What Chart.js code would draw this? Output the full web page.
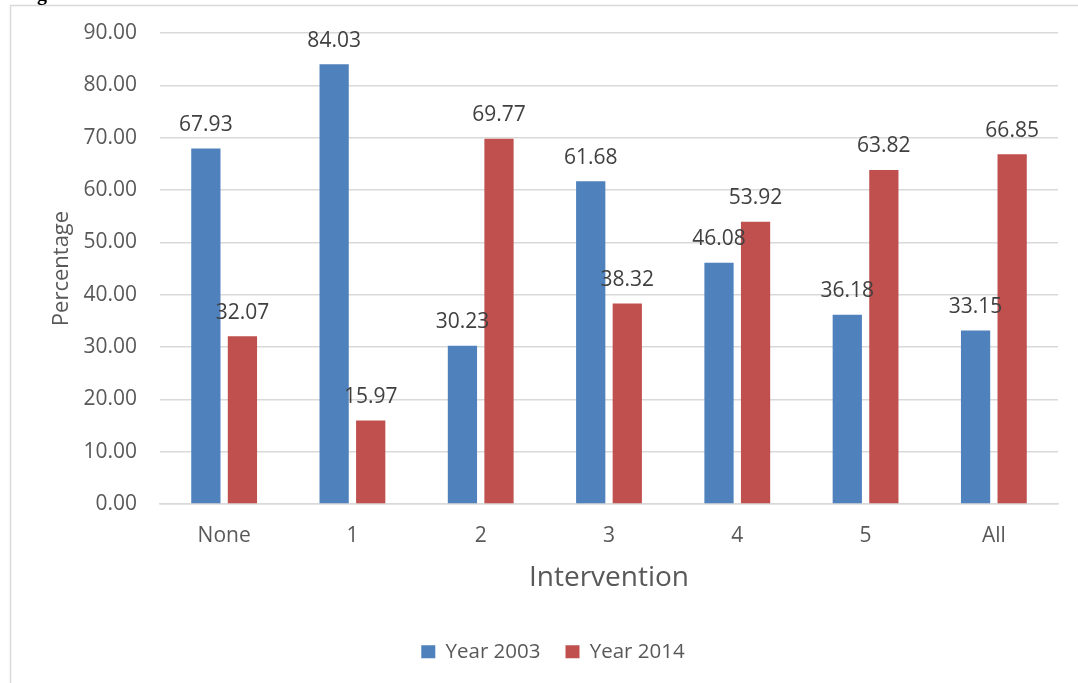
<!DOCTYPE html>
<html>
<head>
<meta charset="utf-8">
<script src="https://cdn.jsdelivr.net/npm/chart.js@4.4.1/dist/chart.umd.min.js"></script>
<style>
  html, body { margin: 0; padding: 0; background: #ffffff; }
  #wrap { position: absolute; left: 0; top: 0; width: 1078px; height: 683px; }
</style>
</head>
<body>
<div id="wrap"><canvas id="chart" width="1078" height="683"></canvas></div>
<script>
// Share of respondents per intervention group, two survey years
const categories = ['None', '1', '2', '3', '4', '5', 'All'];
const year2003 = [67.93, 84.03, 30.23, 61.68, 46.08, 36.18, 33.15];
const year2014 = [32.07, 15.97, 69.77, 38.32, 53.92, 63.82, 66.85];
const seriesNames = ['Year 2003', 'Year 2014'];
const yTicks = [0, 10, 20, 30, 40, 50, 60, 70, 80, 90];

const FONT = "'Open Sans', 'Noto Sans', sans-serif";
const TEXT = '#595959';

// Frame around the figure and the clipped caption line above it
const framePlugin = {
  id: 'frame',
  beforeDraw(chart) {
    const ctx = chart.ctx;
    ctx.save();
    ctx.fillStyle = '#ffffff';
    ctx.fillRect(0, 0, chart.width, chart.height);
    ctx.strokeStyle = '#d9d9d9';
    ctx.lineWidth = 1.5;
    ctx.beginPath();
    ctx.moveTo(10.5, 683);
    ctx.lineTo(10.5, 5.5);
    ctx.lineTo(1078, 5.5);
    ctx.stroke();
    ctx.fillStyle = '#000000';
    ctx.font = "bold 20px 'Liberation Serif', serif";
    ctx.textBaseline = 'alphabetic';
    ctx.textAlign = 'left';
    ctx.fillText('g', 37, 0);
    ctx.restore();
  }
};

// Nudge the legend row so it sits a little right of the canvas centre
const legendShift = {
  id: 'legendShift',
  afterLayout(chart) {
    const lg = chart.legend;
    if (lg) { lg.left += 19; lg.right += 19; }
  }
};

// Value labels above each bar
const valueLabels = {
  id: 'valueLabels',
  afterDatasetsDraw(chart) {
    const ctx = chart.ctx;
    ctx.save();
    ctx.fillStyle = '#404040';
    ctx.font = '21px ' + FONT;
    ctx.textAlign = 'center';
    ctx.textBaseline = 'bottom';
    chart.data.datasets.forEach((ds, i) => {
      chart.getDatasetMeta(i).data.forEach((bar, j) => {
        ctx.fillText(ds.data[j].toFixed(2), bar.x, bar.y - 13);
      });
    });
    ctx.restore();
  }
};

new Chart(document.getElementById('chart'), {
  type: 'bar',
  data: {
    labels: categories,
    datasets: [
      { label: seriesNames[0], data: year2003, backgroundColor: '#4f81bd',
        categoryPercentage: 0.57, barPercentage: 0.8 },
      { label: seriesNames[1], data: year2014, backgroundColor: '#c0504d',
        categoryPercentage: 0.57, barPercentage: 0.8 }
    ]
  },
  options: {
    responsive: false,
    animation: false,
    devicePixelRatio: 1,
    layout: { padding: { left: 10, right: 20, top: 33, bottom: 11 } },
    plugins: {
      legend: {
        position: 'bottom',
        labels: {
          font: { family: FONT, size: 20.5 },
          color: TEXT,
          boxWidth: 14,
          boxHeight: 13,
          padding: 25
        }
      },
      tooltip: { enabled: false }
    },
    scales: {
      x: {
        grid: { display: false, drawTicks: false },
        border: { display: true, color: '#d9d9d9', width: 1.5 },
        ticks: { color: TEXT, font: { family: FONT, size: 21 }, padding: 19 },
        title: {
          display: true, text: 'Intervention', color: TEXT,
          font: { family: FONT, size: 28 }, padding: { top: 0, bottom: 22 }
        },
        afterFit(scale) { scale.height = 112.5; }
      },
      y: {
        min: 0, max: 90,
        afterBuildTicks(scale) { scale.ticks = yTicks.map(v => ({ value: v })); },
        grid: { color: '#d9d9d9', lineWidth: 1.5, drawTicks: false },
        border: { display: false },
        ticks: {
          color: TEXT, font: { family: FONT, size: 21 }, padding: 23,
          callback: v => Number(v).toFixed(2)
        },
        title: {
          display: true, text: 'Percentage', color: TEXT,
          font: { family: FONT, size: 22 }, padding: { top: 39, bottom: 0 }
        },
        afterFit(scale) {
          scale.width = 150;
          scale.paddingTop = 0;
          scale.paddingBottom = 0;
        }
      }
    }
  },
  plugins: [framePlugin, legendShift, valueLabels]
});
</script>
</body>
</html>
